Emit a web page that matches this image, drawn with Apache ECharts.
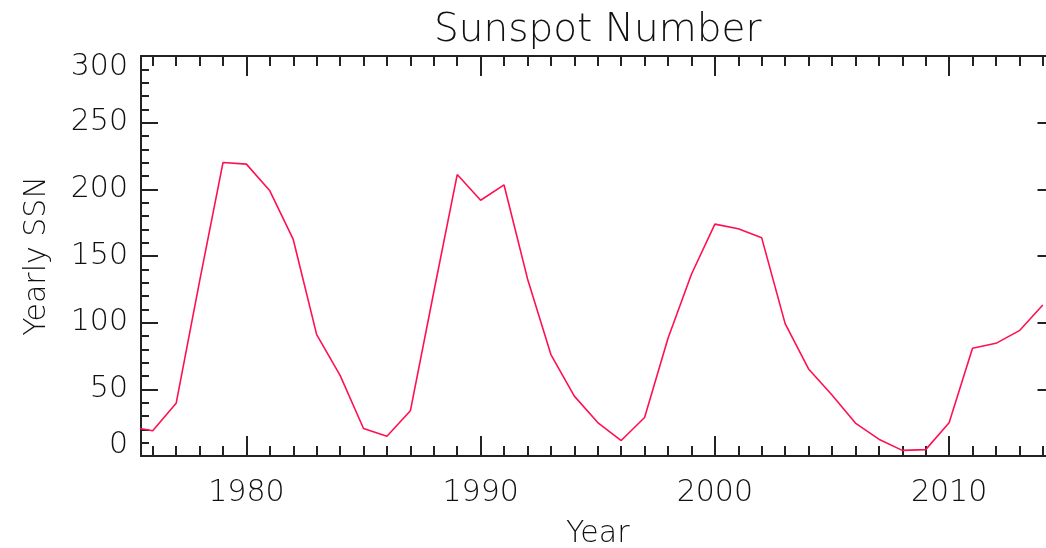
<!DOCTYPE html>
<html>
<head>
<meta charset="utf-8">
<script src="https://cdn.jsdelivr.net/npm/echarts@6/dist/echarts.min.js"></script>
<style>
  html, body { margin: 0; padding: 0; background: #fff; }
  #chart { width: 1046px; height: 548px; }
</style>
</head>
<body>
<div id="chart"></div>
<script>
// Yearly sunspot numbers
const years = [1975, 1976, 1977, 1978, 1979, 1980, 1981, 1982, 1983, 1984,
               1985, 1986, 1987, 1988, 1989, 1990, 1991, 1992, 1993, 1994,
               1995, 1996, 1997, 1998, 1999, 2000, 2001, 2002, 2003, 2004,
               2005, 2006, 2007, 2008, 2009, 2010, 2011, 2012, 2013, 2014];
const ssn = [22.0, 19.0, 39.5, 131.0, 220.1, 218.9, 198.9, 162.4, 91.0, 60.5,
             20.6, 14.8, 33.9, 123.0, 211.1, 191.8, 203.3, 133.0, 76.1, 44.9,
             25.1, 11.6, 28.9, 88.3, 136.3, 173.9, 170.4, 163.6, 99.3, 65.3,
             45.8, 24.7, 12.6, 4.2, 4.8, 24.9, 80.8, 84.5, 94.0, 113.3];

const xMajorTicks = [1980, 1990, 2000, 2010];
const xRange = [1975.5, 2014.5];
const yRange = [0, 300];
const yStep = 50;

const xMinorTicks = [];
for (let y = Math.ceil(xRange[0]); y <= Math.floor(xRange[1]); y++) xMinorTicks.push(y);

const INK = '#222';
const TEXT = '#111';
const FONT = '"DejaVu Sans", sans-serif';
const WEIGHT = 200;
const RED = '#ff1050';

const chart = echarts.init(document.getElementById('chart'), null, { renderer: 'canvas' });

function xAxisDef(position, ticks, len, withLine, withLabels) {
  return {
    type: 'value',
    position: position,
    min: xRange[0],
    max: xRange[1],
    axisLine: { show: withLine, onZero: false, lineStyle: { color: INK, width: 2 } },
    axisTick: { show: true, inside: true, length: len, customValues: ticks,
                lineStyle: { color: INK, width: 2 } },
    axisLabel: withLabels
      ? { show: true, customValues: ticks, color: TEXT, fontFamily: FONT, fontWeight: WEIGHT,
          fontSize: 30, margin: 22, formatter: v => String(v) }
      : { show: false },
    splitLine: { show: false },
    name: withLabels ? 'Year' : '',
    nameLocation: 'middle',
    nameGap: 63,
    nameTextStyle: { color: TEXT, fontFamily: FONT, fontWeight: WEIGHT, fontSize: 30 }
  };
}

function yAxisDef(position, withLabels) {
  return {
    type: 'value',
    position: position,
    min: yRange[0],
    max: yRange[1],
    interval: yStep,
    axisLine: { show: true, onZero: false, lineStyle: { color: INK, width: 2 } },
    axisTick: { show: true, inside: true, length: 17, lineStyle: { color: INK, width: 2 } },
    minorTick: { show: true, splitNumber: 5, length: 8, lineStyle: { color: INK, width: 2 } },
    axisLabel: withLabels
      ? { show: true, color: TEXT, fontFamily: FONT, fontWeight: WEIGHT, fontSize: 30, margin: 13,
          lineHeight: 22,
          verticalAlignMinLabel: 'bottom', verticalAlignMaxLabel: 'top' }
      : { show: false },
    splitLine: { show: false },
    minorSplitLine: { show: false },
    name: withLabels ? 'Yearly SSN' : '',
    nameLocation: 'middle',
    nameGap: 89,
    nameTextStyle: { color: TEXT, fontFamily: FONT, fontWeight: WEIGHT, fontSize: 30 }
  };
}

chart.setOption({
  backgroundColor: '#fff',
  animation: false,
  grid: {
    left: 141, top: 56, width: 913.5, height: 400,
    containLabel: false, outerBoundsMode: 'none'
  },
  graphic: [{
    type: 'text',
    x: 597.7, y: 31,
    style: {
      text: 'Sunspot Number',
      fill: TEXT,
      font: WEIGHT + ' 39px ' + FONT,
      textAlign: 'center',
      textVerticalAlign: 'middle'
    }
  }],
  xAxis: [
    xAxisDef('bottom', xMajorTicks, 20, true, true),
    xAxisDef('bottom', xMinorTicks, 10, false, false),
    xAxisDef('top', xMajorTicks, 20, true, false),
    xAxisDef('top', xMinorTicks, 10, false, false)
  ],
  yAxis: [
    yAxisDef('left', true),
    yAxisDef('right', false)
  ],
  series: [{
    type: 'line',
    xAxisIndex: 0,
    yAxisIndex: 0,
    data: years.map((y, i) => [y, ssn[i]]),
    symbol: 'none',
    clip: true,
    lineStyle: { color: RED, width: 1.6 }
  }]
});
</script>
</body>
</html>
